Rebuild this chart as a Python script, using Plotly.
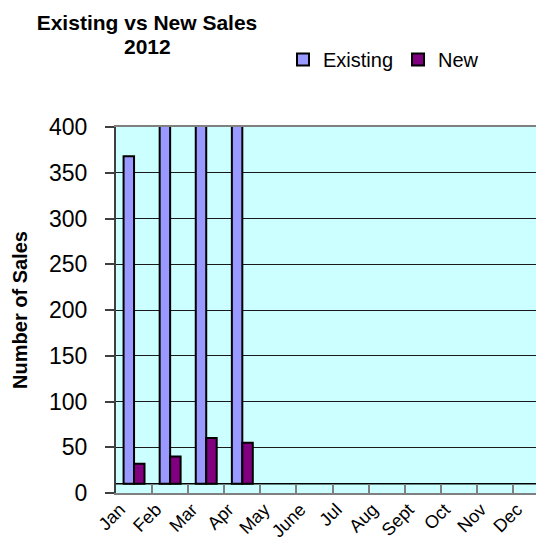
import plotly.graph_objects as go

# ---- data ----
months = ["Jan", "Feb", "Mar", "Apr", "May", "June", "Jul", "Aug", "Sept", "Oct", "Nov", "Dec"]
existing = [358, 420, 415, 410, None, None, None, None, None, None, None, None]
new = [22, 30, 50, 45, None, None, None, None, None, None, None, None]
y_ticks = [0, 50, 100, 150, 200, 250, 300, 350, 400]

# ---- style ----
FLOOR = 10          # visual 3D floor offset of the columns
FONT = "Liberation Sans, Arial, sans-serif"
W, H = 544, 540
L, R, T, B = 108, 0, 119, 55

fig = go.Figure()
fig.add_trace(go.Bar(
    name="Existing", x=months, y=existing, base=FLOOR,
    marker=dict(color="#9999FF", line=dict(color="#000000", width=2)),
))
fig.add_trace(go.Bar(
    name="New", x=months, y=new, base=FLOOR,
    marker=dict(color="#800080", line=dict(color="#000000", width=2)),
))

fig.add_shape(type="line", xref="paper", x0=0, x1=1, yref="y", y0=FLOOR, y1=FLOOR,
              line=dict(color="#000000", width=1.5), layer="below")

plot_w = W - L - R
plot_h = H - T - B
fig.update_layout(
    width=W, height=H,
    margin=dict(l=L, r=R, t=T, b=B, autoexpand=False),
    paper_bgcolor="#FFFFFF",
    plot_bgcolor="#CCFFFF",
    font=dict(family=FONT, color="#000000"),
    barmode="group", bargap=0.42, bargroupgap=0,
    showlegend=True,
    legend=dict(orientation="h", x=(275 - L) / plot_w, xanchor="left",
                y=(H - B - 32) / plot_h, yanchor="top", font=dict(size=20), itemwidth=30,
                bgcolor="rgba(0,0,0,0)", traceorder="normal"),
    title=dict(text="<b>Existing vs New Sales</b>", x=139 / W, xanchor="center",
               xref="container", y=1 - 15 / H, yanchor="middle", yref="container",
               font=dict(size=21, family=FONT)),
    annotations=[dict(text="<b>2012</b>", xref="paper", yref="paper",
                      x=(139 - L) / plot_w, y=(H - B - 39) / plot_h,
                      xanchor="center", yanchor="middle", showarrow=False,
                      font=dict(size=21, family=FONT))],
    xaxis=dict(
        range=[-0.5, 11.58], showline=True, linecolor="#808080", linewidth=2, mirror=True,
        ticks="inside", tickson="boundaries", ticklen=9, tickcolor="#808080", tickwidth=2,
        tickangle=-45, tickfont=dict(size=18), ticklabelshift=-14, ticklabelstandoff=-3,
        showgrid=False, fixedrange=True,
    ),
    yaxis=dict(
        range=[0, 400], tickvals=y_ticks, showgrid=True, gridcolor="#1a1a1a", gridwidth=1,
        zeroline=False, showline=True, linecolor="#404040", linewidth=2,
        ticks="outside", ticklen=9, tickcolor="#404040", tickwidth=1.5,
        tickfont=dict(size=23), ticklabelstandoff=13,
        title=dict(text="<b>Number of Sales</b>", font=dict(size=20), standoff=16),
    ),
)

fig.write_html("out.html")
